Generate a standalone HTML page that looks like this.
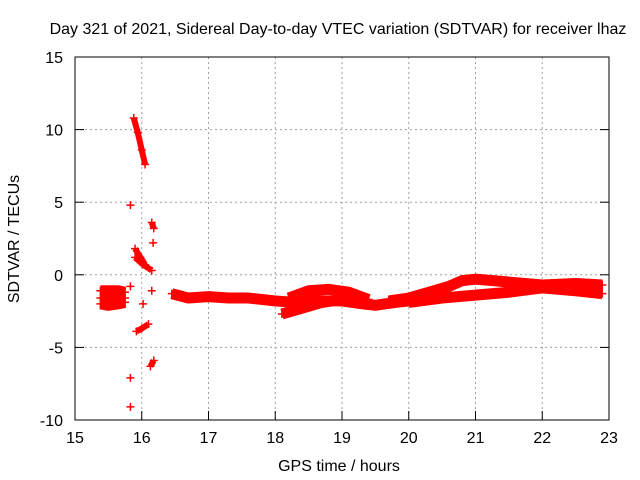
<!DOCTYPE html>
<html><head><meta charset="utf-8"><style>
body{margin:0;background:#fff;}
svg{display:block;font-family:"Liberation Sans",sans-serif;}
</style></head><body>
<svg id="chart" width="640" height="480">
<text x="338" y="34" font-size="16" text-anchor="middle">Day 321 of 2021, Sidereal Day-to-day VTEC variation (SDTVAR) for receiver lhaz</text>
<text x="339" y="471" font-size="16" text-anchor="middle">GPS time / hours</text>
<text transform="translate(19,239) rotate(-90)" font-size="16" text-anchor="middle">SDTVAR / TECUs</text>
<g id="grid"></g><g id="marks"></g>
<rect x="75" y="57" width="534" height="363" fill="none" stroke="#000"/>
<g id="ticks"></g>
</svg>
<script>
const xTicks=[15,16,17,18,19,20,21,22,23];
const yTicks=[15,10,5,0,-5,-10];
const blockA=[[15.38,-1.1],[15.5,-1.1],[15.65,-1.1],[15.75,-1.2]];
const blockB=[[15.38,-1.6],[15.5,-1.6],[15.65,-1.6],[15.75,-1.6]];
const blockC=[[15.38,-2.0],[15.5,-2.1],[15.65,-2.0],[15.75,-1.9]];
const mainBand=[[16.45,-1.3],[16.7,-1.6],[17.0,-1.5],[17.3,-1.6],[17.6,-1.6],[18.0,-1.8],[18.3,-1.9],[18.6,-1.8],[19.0,-1.8],[19.3,-2.0],[19.5,-2.1],[19.8,-1.9],[20.0,-1.8]];
const upperBranch=[[18.2,-1.6],[18.5,-1.1],[18.8,-1.0],[19.1,-1.2],[19.4,-1.7]];
const lowerBranch=[[18.1,-2.7],[18.4,-2.3],[18.7,-1.9],[19.0,-1.7]];
const riseTrack=[[19.7,-1.8],[20.0,-1.6],[20.3,-1.2],[20.6,-0.8],[20.8,-0.4],[21.0,-0.3],[21.5,-0.5],[22.0,-0.7],[22.5,-0.6],[22.9,-0.7]];
const lowerTrack=[[20.0,-1.9],[20.5,-1.6],[21.0,-1.4],[21.5,-1.2],[22.0,-0.9],[22.5,-1.1],[22.9,-1.3]];
const steep=[[15.88,10.8],[15.94,9.8],[16.0,8.6],[16.05,7.6]];
const diagA=[[15.9,1.8],[15.98,1.2],[16.05,0.7]];
const diagB=[[15.9,1.2],[16.02,0.7],[16.15,0.3]];
const diagC=[[15.92,-3.9],[16.0,-3.7],[16.1,-3.4]];
const diagD=[[16.15,3.6],[16.18,3.2]];
const diagE=[[16.13,-6.3],[16.18,-5.9]];
const singles=[[15.83,4.8],[15.83,-0.8],[15.83,-7.1],[15.83,-9.1],[16.17,2.2],[16.02,-2.0],[16.15,-1.1]];
const thick=[blockA,blockB,blockC,mainBand,upperBranch,lowerBranch,riseTrack,lowerTrack];
const thin=[steep,diagA,diagB,diagC,diagD,diagE];
const NS="http://www.w3.org/2000/svg";
const xs=t=>75+(t-15)*(534/8);
const ys=v=>57+(15-v)*(363/25);
function mk(tag,attrs,parent){const e=document.createElementNS(NS,tag);for(const k in attrs)e.setAttribute(k,attrs[k]);document.getElementById(parent).appendChild(e);return e;}
xTicks.forEach(t=>{
 if(t>15&&t<23){const g=mk('line',{x1:xs(t),x2:xs(t),y1:57,y2:420,stroke:'#a0a0a0','stroke-dasharray':'2,3'},'grid');
 
 }
 const tk=mk('line',{x1:xs(t),x2:xs(t),y1:420,y2:411,stroke:'#000'},'ticks');
 
 
 const tx=mk('text',{x:xs(t),y:443,'font-size':16,'text-anchor':'middle'},'ticks');tx.textContent=t;
 
 
});
yTicks.forEach(v=>{
 if(v<15&&v>-10){const g=mk('line',{x1:75,x2:609,y1:ys(v),y2:ys(v),stroke:'#a0a0a0','stroke-dasharray':'2,3'},'grid');
 
 }
 const tk=mk('line',{x1:75,x2:84,y1:ys(v),y2:ys(v),stroke:'#000'},'ticks');
 
 
 const tk2=mk('line',{x1:600,x2:609,y1:ys(v),y2:ys(v),stroke:'#000'},'ticks');
 
 
 const tx=mk('text',{x:63,y:ys(v)+6,'font-size':16,'text-anchor':'end'},'ticks');tx.textContent=v;
 
 
});
function plus(t,v){const p=mk('path',{d:`M${xs(t)-4},${ys(v)}h8M${xs(t)},${ys(v)-4}v8`,stroke:'#f00','stroke-width':1.5},'marks');
 
 }
thick.forEach(s=>{
 const pl=mk('polyline',{points:s.map(p=>xs(p[0])+','+ys(p[1])).join(' '),fill:'none',stroke:'#f00','stroke-width':11,'stroke-linejoin':'round'},'marks');
 
 
 s.forEach(p=>plus(p[0],p[1]));
});
thin.forEach(s=>{
 const pl=mk('polyline',{points:s.map(p=>xs(p[0])+','+ys(p[1])).join(' '),fill:'none',stroke:'#f00','stroke-width':6},'marks');
 
 
 s.forEach(p=>plus(p[0],p[1]));
});
singles.forEach(p=>plus(p[0],p[1]));
</script>
</body></html>
